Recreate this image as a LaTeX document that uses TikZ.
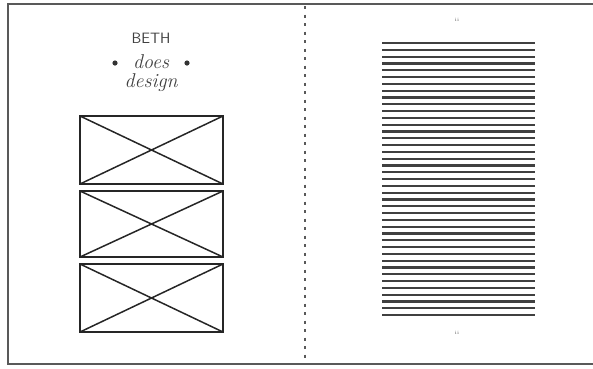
\documentclass[tikz,border=0pt]{standalone}
\usepackage{tikz}
\usetikzlibrary{positioning}

\tikzset{
  frameline/.style={line width=1.8pt,gray!70!black},
  photobox/.style={line width=1.5pt,black!85},
  textline/.style={line width=2.2pt,black!75},
  titletext/.style={gray!50!black,inner sep=0pt},
  folio/.style={font=\fontsize{5}{5}\selectfont,gray!70!black}
}

\begin{document}
\begin{tikzpicture}[x=1pt,y=-1pt]
        \useasboundingbox (0,0) rectangle (593,368);

        % page frame (open on the right)
        \draw[frameline] (593,4) -- (8,4) -- (8,364) -- (593,364);
        % fold
        \draw[line width=1.6pt,gray!70!black,dash pattern=on 3pt off 5.5pt] (305,6) -- (305,362);

        % left page: title
        \node[titletext,font=\sffamily\fontsize{15}{17}\selectfont] (beth) at (151,38) {BETH};
        \node[titletext,font=\itshape\fontsize{20}{22}\selectfont] (does) at (151,62) {does};
        \node[titletext,font=\itshape\fontsize{20}{22}\selectfont] (design) at (151,83) {design};
        \fill[black!80] (115,63) circle (2.6pt) (187,63) circle (2.6pt);

        % left page: picture boxes
        \foreach \t/\b in {116/184, 191/257, 264/332} {
          \draw[photobox] (80,\t) rectangle (223,\b);
          \draw[photobox] (80,\t) -- (223,\b) (80,\b) -- (223,\t);
        }

        % right page: text block
        \foreach \i in {0,...,40} {
          \draw[textline] (382,43+\i*6.8) -- (535,43+\i*6.8);
        }
        \node[folio] (ftop) at (457,20) {ii};
        \node[folio] (fbot) at (457,333) {ii};
      \end{tikzpicture}
\end{document}
